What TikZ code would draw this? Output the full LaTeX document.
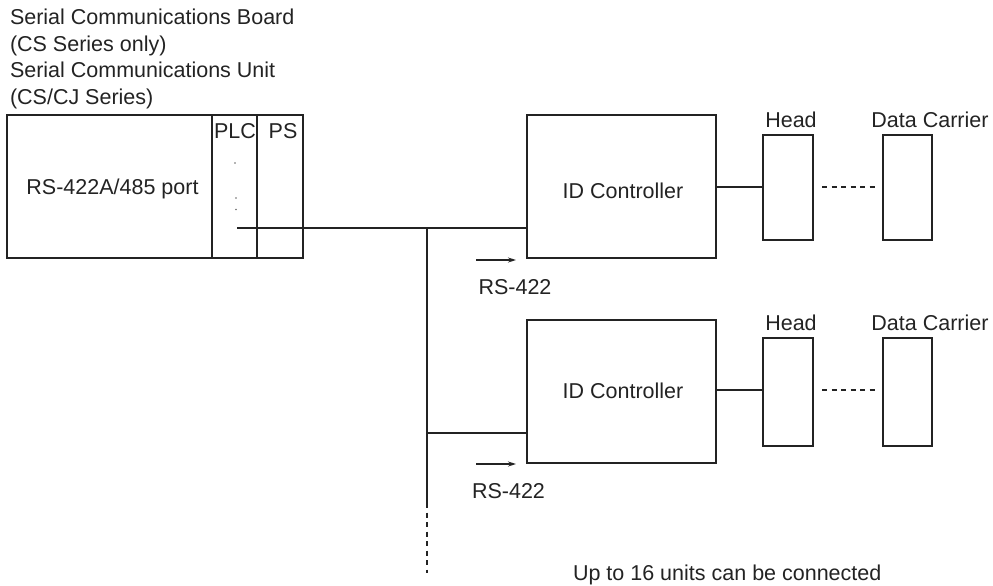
\documentclass[tikz,border=0pt]{standalone}
\usepackage{fontspec}
\setmainfont{Liberation Sans}
\usetikzlibrary{arrows.meta}
\definecolor{ink}{HTML}{232323}
\definecolor{dotgray}{HTML}{6A6A6A}
\begin{document}
\begin{tikzpicture}[x=1pt,y=-1pt,
  every node/.style={inner sep=0pt, outer sep=0pt},
  box/.style={draw=ink, line width=1.3pt, anchor=north west},
  lbl/.style={font=\fontsize{21.5}{26}\selectfont, text=ink, text height=15.4pt, text depth=0pt},
  wire/.style={draw=ink, line width=1.3pt},
  dashwire/.style={draw=ink, line width=1.3pt, dash pattern=on 5pt off 4.5pt},
  sigarrow/.style={draw=ink, line width=1.2pt, -{Stealth[length=8pt,width=5pt]}}]
\useasboundingbox (0,0) rectangle (993,586);

% title text
\node[lbl, anchor=west] (t1) at (10,17) {Serial Communications Board};
\node[lbl, anchor=west] (t2) at (10,43.5) {(CS Series only)};
\node[lbl, anchor=west] (t3) at (10,70) {Serial Communications Unit};
\node[lbl, anchor=west] (t4) at (10,97) {(CS/CJ Series)};

% PLC unit
\node[box, minimum width=296pt, minimum height=143pt] (sc) at (7,115) {};
\node[box, minimum width=45pt, minimum height=143pt] (plc) at (212,115) {};
\node[box, minimum width=46pt, minimum height=143pt] (ps) at (257,115) {};
\node[lbl] (port) at (112.5,187) {RS-422A/485 port};
\node[lbl] (plcl) at (235,130.5) {PLC};
\node[lbl] (psl) at (283,130.5) {PS};
\fill[dotgray] (235,163) circle (0.8);
\fill[dotgray] (236,198) circle (0.8);
\fill[dotgray] (236,209.5) circle (0.8);

% ID controllers
\node[box, minimum width=189pt, minimum height=143pt] (id1) at (527,115) {};
\node[lbl] (id1l) at (623,191) {ID Controller};
\node[box, minimum width=189pt, minimum height=143pt] (id2) at (527,320) {};
\node[lbl] (id2l) at (623,391) {ID Controller};

% heads and data carriers
\node[box, minimum width=50pt, minimum height=105pt] (h1) at (763,135) {};
\node[box, minimum width=49pt, minimum height=105pt] (dc1) at (883,135) {};
\node[box, minimum width=50pt, minimum height=108pt] (h2) at (763,338) {};
\node[box, minimum width=49pt, minimum height=108pt] (dc2) at (883,338) {};
\node[lbl] (h1l) at (791,120) {Head};
\node[lbl] (dc1l) at (930,120) {Data Carrier};
\node[lbl] (h2l) at (791,323) {Head};
\node[lbl] (dc2l) at (930,323) {Data Carrier};

% bus
\coordinate (bs) at (237,228);
\coordinate (j1) at (427,228);
\coordinate (j2) at (427,433);
\coordinate (vb) at (427,503);
\coordinate (ve) at (427,573);
\draw[wire] (bs) -- (bs -| id1.west);
\draw[wire] (j1) -- (vb);
\draw[dashwire] (vb) -- (ve);
\draw[wire] (j2) -- (j2 -| id2.west);

% controller to head
\draw[wire] (id1.east |- 0,187) -- (h1.west |- 0,187);
\draw[wire] (id2.east |- 0,390) -- (h2.west |- 0,390);
\coordinate (d1a) at (822,187);
\coordinate (d2a) at (822,390);
\draw[dashwire] (d1a) -- ([xshift=-8pt]d1a -| dc1.west);
\draw[dashwire] (d2a) -- ([xshift=-8pt]d2a -| dc2.west);

% signal arrows
\coordinate (a1s) at (476,260);
\coordinate (a1e) at (516,260);
\coordinate (a2s) at (476,464);
\coordinate (a2e) at (516,464);
\draw[sigarrow] (a1s) -- (a1e);
\draw[sigarrow] (a2s) -- (a2e);
\node[lbl] (r1) at (515,286.5) {RS-422};
\node[lbl] (r2) at (508.5,490.5) {RS-422};

\node[lbl, anchor=west] (note) at (573,572.5) {Up to 16 units can be connected};
\end{tikzpicture}
\end{document}
